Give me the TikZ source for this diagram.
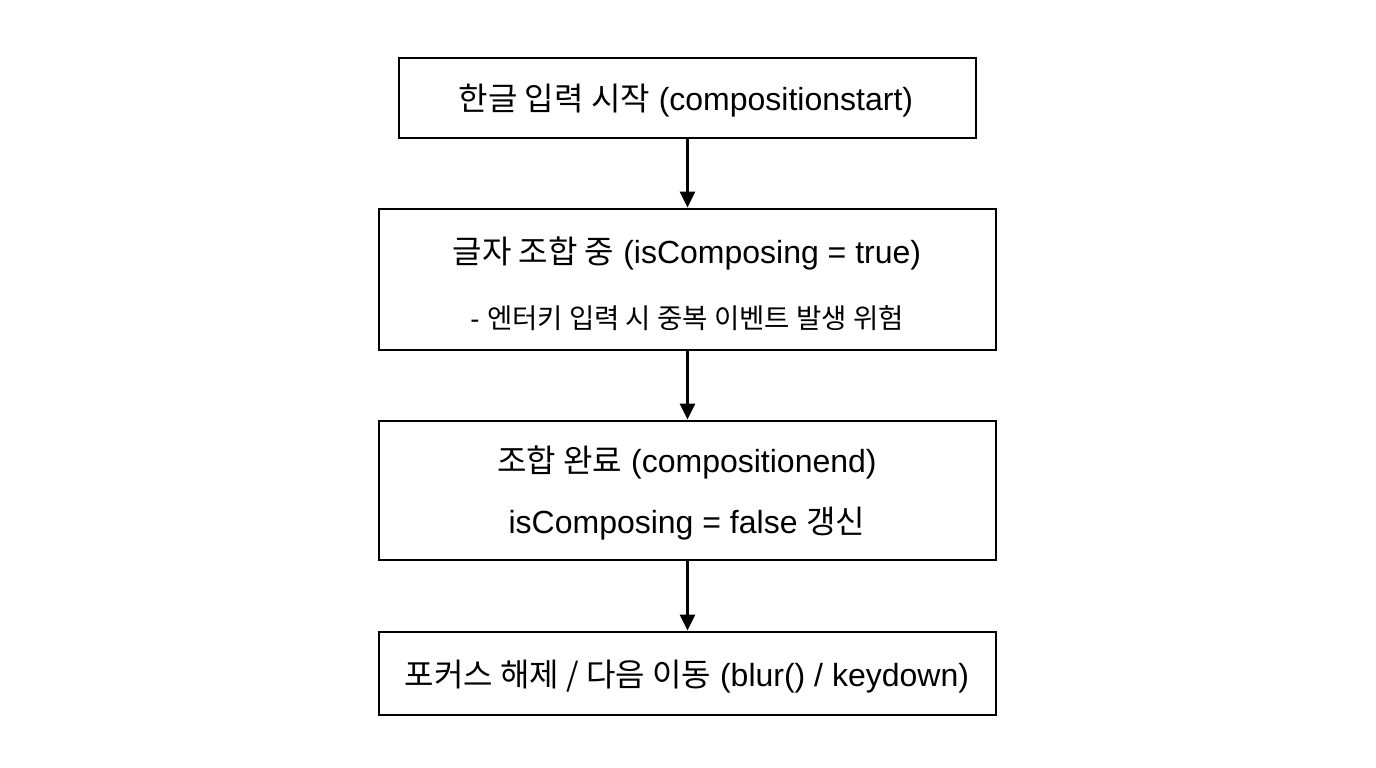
\documentclass[tikz,border=0pt]{standalone}
\usepackage{fontspec}
\setmainfont{Liberation Sans}
\newfontfamily\kr{Noto Sans CJK KR}
\usetikzlibrary{arrows.meta}
\begin{document}
\begin{tikzpicture}[x=1pt,y=-1pt,
  box/.style={draw=black,line width=2.8pt,fill=white},
  txt/.style={font=\fontsize{32}{38}\selectfont,inner sep=0pt},
  small/.style={font=\fontsize{27.5}{32}\selectfont,inner sep=0pt},
  arr/.style={line width=2.6pt,-{Triangle[length=16pt,width=15pt]}}]
\useasboundingbox (0,0) rectangle (1376,768);
\fill[white] (0,0) rectangle (1376,768);
\node[box,minimum width=577pt,minimum height=80pt] (b1) at (687.5,98) {};
\node[box,minimum width=617pt,minimum height=141pt] (b2) at (687.5,279.5) {};
\node[box,minimum width=617pt,minimum height=139pt] (b3) at (687.5,490.5) {};
\node[box,minimum width=617pt,minimum height=83pt] (b4) at (687.5,673.5) {};
\node[txt] (t1) at (686,101) {{\kr 한글 입력 시작} (compositionstart)};
\node[txt] (t2) at (687,253) {{\kr 글자 조합 중} (isComposing = true)};
\node[small] (t2b) at (687,318) {- {\kr 엔터키 입력 시 중복 이벤트 발생 위험}};
\node[txt] (t3) at (687,462) {{\kr 조합 완료} (compositionend)};
\node[txt] (t3b) at (687,524) {isComposing = false {\kr 갱신}};
\node[txt] (t4) at (687,677) {{\kr 포커스 해제 / 다음 이동} (blur() / keydown)};
\draw[arr] (b1.south) -- (b2.north);
\draw[arr] (b2.south) -- (b3.north);
\draw[arr] (b3.south) -- (b4.north);
\end{tikzpicture}
\end{document}
